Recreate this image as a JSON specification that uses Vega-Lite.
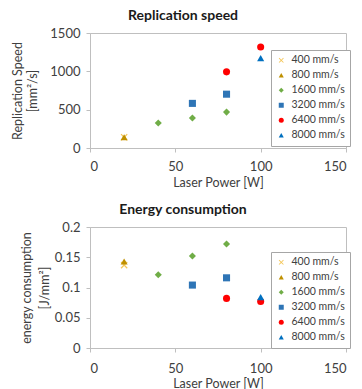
{
  "$schema": "https://vega.github.io/schema/vega-lite/v6.json",
  "padding": {"left": 11, "top": 8, "right": 5, "bottom": 0},
  "background": "white",
  "spacing": 79,
  "bounds": "flush",
  "data": {"values": [
    {"speed": "400 mm/s", "power": 20, "rs": 140, "energy": 0.137},
    {"speed": "800 mm/s", "power": 20, "rs": 140, "energy": 0.143},
    {"speed": "1600 mm/s", "power": 40, "rs": 326, "energy": 0.121},
    {"speed": "1600 mm/s", "power": 60, "rs": 391, "energy": 0.152},
    {"speed": "1600 mm/s", "power": 80, "rs": 468, "energy": 0.172},
    {"speed": "3200 mm/s", "power": 60, "rs": 582, "energy": 0.104},
    {"speed": "3200 mm/s", "power": 80, "rs": 702, "energy": 0.116},
    {"speed": "6400 mm/s", "power": 80, "rs": 993, "energy": 0.082},
    {"speed": "6400 mm/s", "power": 100, "rs": 1318, "energy": 0.077},
    {"speed": "8000 mm/s", "power": 100, "rs": 1172, "energy": 0.084}
  ]},
  "config": {
    "font": "Lato",
    "view": {"stroke": "#BFBFBF", "strokeWidth": 1},
    "axis": {
      "grid": false,
      "domainColor": "#BFBFBF",
      "tickColor": "#BFBFBF",
      "tickSize": 4,
      "labelFont": "Lato",
      "labelFontSize": 13,
      "labelColor": "#404040",
      "titleFont": "Lato",
      "titleFontSize": 12.5,
      "titleFontWeight": "normal",
      "titleColor": "#404040"
    },
    "legend": {
      "strokeColor": "#A6A6A6",
      "fillColor": "white",
      "padding": 5,
      "labelFont": "Lato",
      "labelFontSize": 10.5,
      "labelColor": "#404040",
      "symbolSize": 25,
      "rowPadding": 4,
      "labelOffset": 5,
      "title": null
    },
    "title": {"font": "Lato", "fontSize": 14, "fontWeight": "bold", "color": "#1a1a1a", "dx": -35, "offset": 4}
  },
  "resolve": {"legend": {"color": "independent", "shape": "independent"}},
  "vconcat": [
    {
      "title": "Replication speed",
      "width": 256,
      "height": 115,
      "mark": {"type": "point", "filled": true, "opacity": 1, "size": 50},
      "encoding": {
        "x": {"field": "power", "type": "quantitative", "scale": {"domain": [0, 150]},
              "axis": {"values": [0, 50, 100, 150], "title": "Laser Power [W]", "labelPadding": 8, "titlePadding": 3}},
        "y": {"field": "rs", "type": "quantitative", "scale": {"domain": [0, 1500]},
              "axis": {"values": [0, 500, 1000, 1500], "format": "d", "title": ["Replication Speed", "[mm²/s]"], "titleLineHeight": 15, "labelPadding": 6, "titlePadding": 10}},
        "color": {"field": "speed", "type": "nominal",
                  "scale": {"domain": ["400 mm/s", "800 mm/s", "1600 mm/s", "3200 mm/s", "6400 mm/s", "8000 mm/s"],
                            "range": ["#F4C75A", "#BF9000", "#70AD47", "#2E75B6", "#FF0000", "#0070C0"]},
                  "legend": {"orient": "none", "legendX": 181, "legendY": 17}},
        "shape": {"field": "speed", "type": "nominal",
                  "scale": {"domain": ["400 mm/s", "800 mm/s", "1600 mm/s", "3200 mm/s", "6400 mm/s", "8000 mm/s"],
                            "range": ["M-1,-0.75L-0.75,-1L0,-0.25L0.75,-1L1,-0.75L0.25,0L1,0.75L0.75,1L0,0.25L-0.75,1L-1,0.75L-0.25,0Z", "triangle-up", "diamond", "square", "circle", "triangle-up"]},
                  "legend": {"orient": "none", "legendX": 181, "legendY": 17}}
      }
    },
    {
      "title": "Energy consumption",
      "width": 256,
      "height": 121,
      "mark": {"type": "point", "filled": true, "opacity": 1, "size": 50},
      "encoding": {
        "x": {"field": "power", "type": "quantitative", "scale": {"domain": [0, 150]},
              "axis": {"values": [0, 50, 100, 150], "title": "Laser Power [W]", "labelPadding": 10, "titlePadding": 2}},
        "y": {"field": "energy", "type": "quantitative", "scale": {"domain": [0, 0.2]},
              "axis": {"values": [0, 0.05, 0.1, 0.15, 0.2], "format": "~g", "title": ["energy consumption", "[J/mm²]"], "titleLineHeight": 18, "labelPadding": 6, "titlePadding": 3}},
        "color": {"field": "speed", "type": "nominal",
                  "scale": {"domain": ["400 mm/s", "800 mm/s", "1600 mm/s", "3200 mm/s", "6400 mm/s", "8000 mm/s"],
                            "range": ["#F4C75A", "#BF9000", "#70AD47", "#2E75B6", "#FF0000", "#0070C0"]},
                  "legend": {"orient": "none", "legendX": 181, "legendY": 25}},
        "shape": {"field": "speed", "type": "nominal",
                  "scale": {"domain": ["400 mm/s", "800 mm/s", "1600 mm/s", "3200 mm/s", "6400 mm/s", "8000 mm/s"],
                            "range": ["M-1,-0.75L-0.75,-1L0,-0.25L0.75,-1L1,-0.75L0.25,0L1,0.75L0.75,1L0,0.25L-0.75,1L-1,0.75L-0.25,0Z", "triangle-up", "diamond", "square", "circle", "triangle-up"]},
                  "legend": {"orient": "none", "legendX": 181, "legendY": 25}}
      }
    }
  ]
}
